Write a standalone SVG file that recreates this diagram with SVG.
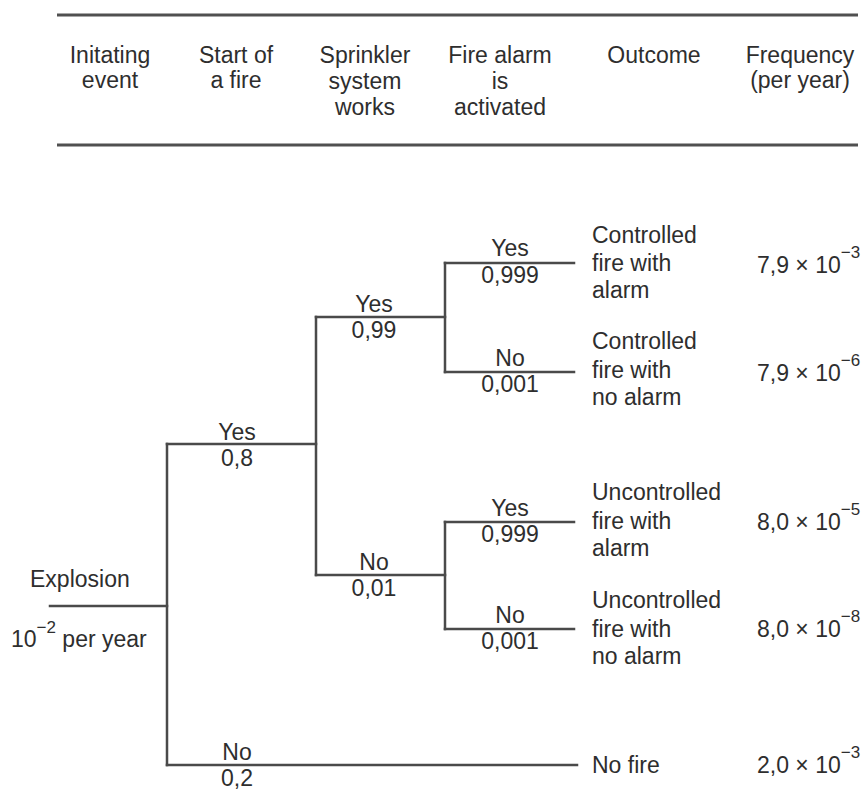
<svg xmlns="http://www.w3.org/2000/svg" width="867" height="791" viewBox="0 0 867 791">
<style>
text { font-family: "Liberation Sans", Arial, sans-serif; font-size: 23px; fill: #2e2e2e; }
.c { text-anchor: middle; }
.sup { font-size: 17px; }
.rule { stroke: #505050; stroke-width: 3; fill: none; }
.br { stroke: #4a4a4a; stroke-width: 2.5; fill: none; stroke-linecap: square; }
</style>
<rect width="867" height="791" fill="#ffffff"/>

<g id="header">
  <line class="rule" x1="57" y1="15" x2="858" y2="15"/>
  <line class="rule" x1="57" y1="145" x2="858" y2="145"/>
  <g id="h-init"><text class="c" x="110" y="63">Initating</text><text class="c" x="110" y="88">event</text></g>
  <g id="h-start"><text class="c" x="236" y="63">Start of</text><text class="c" x="236" y="88">a fire</text></g>
  <g id="h-sprinkler"><text class="c" x="365" y="63">Sprinkler</text><text class="c" x="365" y="89">system</text><text class="c" x="365" y="115">works</text></g>
  <g id="h-alarm"><text class="c" x="500" y="63">Fire alarm</text><text class="c" x="500" y="89">is</text><text class="c" x="500" y="115">activated</text></g>
  <g id="h-outcome"><text class="c" x="654" y="63">Outcome</text></g>
  <g id="h-freq"><text class="c" x="800" y="63">Frequency</text><text class="c" x="800" y="88">(per year)</text></g>
</g>

<g id="connectors">
  <line class="br" x1="50" y1="606" x2="167" y2="606"/>
  <line class="br" x1="167" y1="444" x2="167" y2="765"/>
  <line class="br" x1="167" y1="444" x2="316" y2="444"/>
  <line class="br" x1="167" y1="765" x2="577" y2="765"/>
  <line class="br" x1="316" y1="317" x2="316" y2="575"/>
  <line class="br" x1="316" y1="317" x2="445" y2="317"/>
  <line class="br" x1="316" y1="575" x2="445" y2="575"/>
  <line class="br" x1="445" y1="263" x2="445" y2="372"/>
  <line class="br" x1="445" y1="263" x2="574" y2="263"/>
  <line class="br" x1="445" y1="372" x2="574" y2="372"/>
  <line class="br" x1="445" y1="522" x2="445" y2="629"/>
  <line class="br" x1="445" y1="522" x2="574" y2="522"/>
  <line class="br" x1="445" y1="629" x2="574" y2="629"/>
</g>

<g id="initiating-event">
  <text x="30" y="587">Explosion</text>
  <text x="11" y="647">10<tspan class="sup" dy="-14">−2</tspan><tspan dy="14"> per year</tspan></text>
</g>

<g id="fire-yes"><text class="c" x="237" y="440">Yes</text><text class="c" x="237" y="466">0,8</text></g>
<g id="fire-no"><text class="c" x="237" y="760">No</text><text class="c" x="237" y="786">0,2</text></g>
<g id="sprinkler-yes"><text class="c" x="374" y="312">Yes</text><text class="c" x="374" y="338">0,99</text></g>
<g id="sprinkler-no"><text class="c" x="374" y="570">No</text><text class="c" x="374" y="596">0,01</text></g>
<g id="alarm-yes-1"><text class="c" x="510" y="256">Yes</text><text class="c" x="510" y="283">0,999</text></g>
<g id="alarm-no-1"><text class="c" x="510" y="366">No</text><text class="c" x="510" y="392">0,001</text></g>
<g id="alarm-yes-2"><text class="c" x="510" y="516">Yes</text><text class="c" x="510" y="542">0,999</text></g>
<g id="alarm-no-2"><text class="c" x="510" y="623">No</text><text class="c" x="510" y="649">0,001</text></g>

<g id="outcome-1">
  <text x="592" y="243">Controlled</text><text x="592" y="271">fire with</text><text x="592" y="298">alarm</text>
  <text x="757" y="273">7,9 × 10<tspan class="sup" dy="-15">−3</tspan></text>
</g>
<g id="outcome-2">
  <text x="592" y="349">Controlled</text><text x="592" y="378">fire with</text><text x="592" y="405">no alarm</text>
  <text x="757" y="381">7,9 × 10<tspan class="sup" dy="-15">−6</tspan></text>
</g>
<g id="outcome-3">
  <text x="592" y="500">Uncontrolled</text><text x="592" y="529">fire with</text><text x="592" y="556">alarm</text>
  <text x="757" y="530">8,0 × 10<tspan class="sup" dy="-15">−5</tspan></text>
</g>
<g id="outcome-4">
  <text x="592" y="608">Uncontrolled</text><text x="592" y="637">fire with</text><text x="592" y="664">no alarm</text>
  <text x="757" y="637">8,0 × 10<tspan class="sup" dy="-15">−8</tspan></text>
</g>
<g id="outcome-5">
  <text x="592" y="773">No fire</text>
  <text x="757" y="773">2,0 × 10<tspan class="sup" dy="-15">−3</tspan></text>
</g>
</svg>
